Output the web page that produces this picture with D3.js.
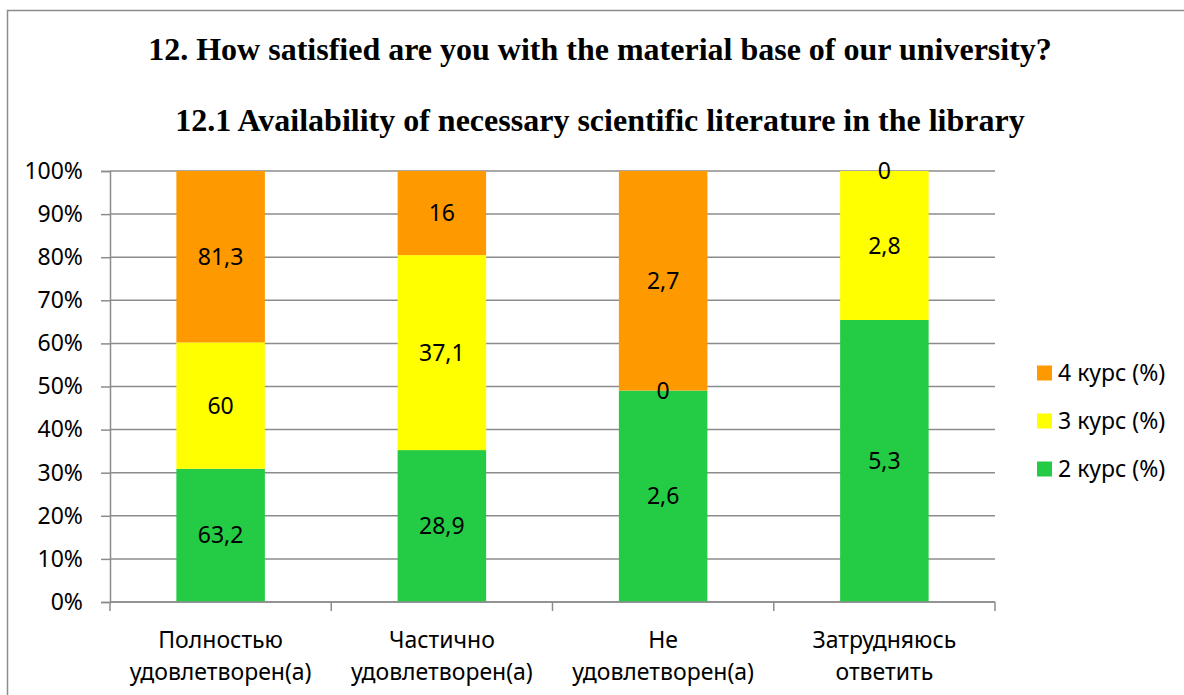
<!DOCTYPE html>
<html>
<head>
<meta charset="utf-8">
<script src="https://cdn.jsdelivr.net/npm/d3@7"></script>
<style>
  body { margin: 0; background: #fff; }
  svg { display: block; }
  .ttl { font-family: "Liberation Serif", "DejaVu Serif", serif; font-weight: bold; }
</style>
</head>
<body>
<div id="vis"></div>
<script>
const FRAME_WIDTH = 1184;
const FRAME_HEIGHT = 695;
const MARGINS = {left: 110, right: 189, top: 171, bottom: 93};
const VIS_WIDTH = FRAME_WIDTH - MARGINS.left - MARGINS.right;
const VIS_HEIGHT = FRAME_HEIGHT - MARGINS.top - MARGINS.bottom;

// data
const categories = [
  ["Полностью", "удовлетворен(а)"],
  ["Частично", "удовлетворен(а)"],
  ["Не", "удовлетворен(а)"],
  ["Затрудняюсь", "ответить"]
];
const seriesNames = ["2 курс (%)", "3 курс (%)", "4 курс (%)"];
const course2 = [63.2, 28.9, 2.6, 5.3];
const course3 = [60, 37.1, 0, 2.8];
const course4 = [81.3, 16, 2.7, 0];
const labels2 = ["63,2", "28,9", "2,6", "5,3"];
const labels3 = ["60", "37,1", "0", "2,8"];
const labels4 = ["81,3", "16", "2,7", "0"];
const yTicks = [0, 0.1, 0.2, 0.3, 0.4, 0.5, 0.6, 0.7, 0.8, 0.9, 1];
const COLORS = ["#24CB45", "#FFFF00", "#FF9900"];

const seriesValues = [course2, course3, course4];
const seriesLabels = [labels2, labels3, labels4];

const table = categories.map((c, i) => {
  const row = {idx: i};
  seriesNames.forEach((s, j) => { row[s] = seriesValues[j][i]; });
  return row;
});

const stacked = d3.stack()
                  .keys(seriesNames)
                  .offset(d3.stackOffsetExpand)(table);

const FRAME = d3.select("#vis")
                .append("svg")
                .attr("width", FRAME_WIDTH)
                .attr("height", FRAME_HEIGHT);

const SANS = "'Noto Sans', sans-serif";

// outer border
FRAME.append("rect")
     .attr("x", 7.5).attr("y", 10.5)
     .attr("width", FRAME_WIDTH + 10).attr("height", FRAME_HEIGHT + 10)
     .attr("fill", "none").attr("stroke", "#8c8c8c").attr("stroke-width", 1.5);

// titles
FRAME.append("text")
     .attr("class", "ttl")
     .attr("x", 600).attr("y", 60)
     .attr("text-anchor", "middle")
     .attr("font-size", "32px")
     .text("12. How satisfied are you with the material base of our university?");

FRAME.append("text")
     .attr("class", "ttl")
     .attr("x", 600).attr("y", 131)
     .attr("text-anchor", "middle")
     .attr("font-size", "32px")
     .text("12.1 Availability of necessary scientific literature in the library");

const X_SCALE = d3.scaleBand()
                  .domain(d3.range(categories.length))
                  .range([0, VIS_WIDTH])
                  .paddingInner(0.6)
                  .paddingOuter(0.3);

const Y_SCALE = d3.scaleLinear()
                  .domain([0, 1])
                  .range([VIS_HEIGHT, 0]);

const G = FRAME.append("g")
               .attr("transform", "translate(" + MARGINS.left + "," + MARGINS.top + ")");

// gridlines
G.append("g")
 .selectAll("line")
 .data(yTicks)
 .enter()
 .append("line")
   .attr("x1", 0).attr("x2", VIS_WIDTH)
   .attr("y1", d => Y_SCALE(d)).attr("y2", d => Y_SCALE(d))
   .attr("stroke", "#8c8c8c").attr("stroke-width", 1.5);

// bars
const layers = G.selectAll(".layer")
                .data(stacked)
                .enter()
                .append("g")
                  .attr("fill", (d, i) => COLORS[i]);

layers.selectAll("rect")
      .data(d => d)
      .enter()
      .append("rect")
        .attr("x", d => X_SCALE(d.data.idx))
        .attr("width", X_SCALE.bandwidth())
        .attr("y", d => Y_SCALE(d[1]))
        .attr("height", d => Y_SCALE(d[0]) - Y_SCALE(d[1]));

// value labels
stacked.forEach((layer, j) => {
  G.append("g")
   .selectAll("text")
   .data(layer)
   .enter()
   .append("text")
     .attr("x", d => X_SCALE(d.data.idx) + X_SCALE.bandwidth() / 2)
     .attr("y", d => Y_SCALE((d[0] + d[1]) / 2))
     .attr("dy", "0.35em")
     .attr("text-anchor", "middle")
     .attr("font-family", SANS)
     .attr("font-size", "23px")
     .attr("fill", "#000")
     .text((d, i) => seriesLabels[j][i]);
});

// y axis
const yAxis = G.append("g")
               .call(d3.axisLeft(Y_SCALE).tickValues(yTicks).tickFormat(d3.format(".0%")).tickSize(9).tickPadding(18));
yAxis.select(".domain").attr("stroke", "#8c8c8c").attr("stroke-width", 1.5);
yAxis.selectAll(".tick line").attr("stroke", "#8c8c8c").attr("stroke-width", 1.5);
yAxis.selectAll(".tick text")
     .attr("font-family", SANS)
     .attr("font-size", "23px").attr("fill", "#000");

// x axis line + boundary ticks
const xAxis = G.append("g").attr("transform", "translate(0," + VIS_HEIGHT + ")");
xAxis.append("line")
     .attr("x1", 0).attr("x2", VIS_WIDTH)
     .attr("stroke", "#8c8c8c").attr("stroke-width", 1.5);
const step = X_SCALE.step();
xAxis.selectAll(".bt")
     .data(d3.range(categories.length + 1))
     .enter()
     .append("line")
       .attr("x1", d => d * step).attr("x2", d => d * step)
       .attr("y1", 0).attr("y2", 9)
       .attr("stroke", "#8c8c8c").attr("stroke-width", 1.5);

const catText = xAxis.selectAll(".cat")
                     .data(categories)
                     .enter()
                     .append("text")
                       .attr("x", (d, i) => X_SCALE(i) + X_SCALE.bandwidth() / 2)
                       .attr("y", 46)
                       .attr("text-anchor", "middle")
                       .attr("font-family", SANS)
                       .attr("font-size", "23px")
                       .attr("fill", "#000");
catText.each(function(d) {
  d.forEach((line, k) => {
    d3.select(this).append("tspan")
      .attr("x", d3.select(this).attr("x"))
      .attr("dy", k === 0 ? 0 : 32)
      .text(line);
  });
});

// legend
const legendOrder = [2, 1, 0];
const legend = FRAME.append("g").attr("transform", "translate(1037,373)");
legendOrder.forEach((s, k) => {
  const row = legend.append("g").attr("transform", "translate(0," + (k * 48) + ")");
  row.append("rect")
     .attr("x", 0).attr("y", -7.5)
     .attr("width", 15).attr("height", 15)
     .attr("fill", COLORS[s]);
  row.append("text")
     .attr("x", 21).attr("y", 0).attr("dy", "0.35em")
     .attr("font-family", SANS)
     .attr("font-size", "23px")
     .text(seriesNames[s]);
});
</script>
</body>
</html>
